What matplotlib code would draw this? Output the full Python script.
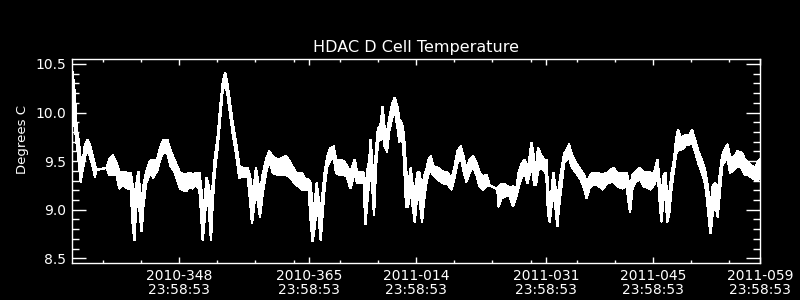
import numpy as np
import matplotlib
matplotlib.use("Agg")
import matplotlib.pyplot as plt

# time in continuous day-of-year (2011 days continue past 365)
days = [335.09, 335.35, 335.61, 335.87, 336.13, 336.39, 336.70, 337.01, 337.35, 337.70,
        338.01, 338.14, 339.54, 339.88, 340.32, 340.84, 341.19, 341.72, 342.24, 342.68,
        342.94, 343.16, 343.37, 343.68, 343.90, 344.11, 344.33, 344.68, 345.20, 345.64,
        346.16, 346.51, 346.95, 347.47, 347.91, 348.47, 349.13,
        349.91, 350.35, 350.78, 351.22, 351.66, 351.88, 352.09, 352.35, 352.62, 352.88,
        353.18, 353.40, 353.66, 354.06, 354.40, 354.71, 355.02, 355.32, 355.67, 356.02,
        356.45, 356.89, 357.33, 357.98, 358.29, 358.55, 358.85, 359.07, 359.29, 359.59,
        359.94, 360.38, 360.82, 361.25, 361.91, 363.00, 363.43, 364.30,
        365.09, 365.52, 365.96, 366.18, 366.48, 366.75, 367.01, 367.27, 367.53, 367.79,
        368.05, 368.40, 368.80, 369.23, 369.54, 369.97, 370.54, 370.98, 371.41, 371.98,
        372.28, 372.72, 373.16, 373.38, 373.64, 373.90, 374.07, 374.33, 374.51, 374.77,
        375.03, 375.34, 375.64, 375.90, 376.21, 376.52, 376.86, 377.21, 377.56, 377.82,
        378.17, 378.43, 378.70, 378.96, 379.31, 379.57, 379.83, 380.18,
        380.26, 380.48, 380.79, 381.05, 381.35, 381.66, 381.92, 382.23, 382.88, 383.54,
        384.19, 384.63, 384.97, 385.41, 385.85, 386.20, 386.59, 387.02, 387.46, 387.90,
        388.33, 388.77, 389.20, 389.64, 390.64, 390.82, 391.17, 391.69, 392.26, 392.69,
        393.13, 393.43, 393.87, 394.22, 394.57, 394.83, 395.09, 395.35,
        395.44, 395.70, 395.96, 396.31, 396.75, 397.05, 397.27, 397.49, 397.71, 397.97,
        398.23, 398.49, 398.71, 399.02, 399.36, 399.71, 400.02, 400.32, 400.67, 401.11,
        401.55, 401.98, 402.33, 402.68, 403.07, 403.73, 404.38, 405.03, 405.82, 406.34,
        407.00, 407.56, 407.83, 408.00, 408.31, 408.74, 409.31, 409.83, 410.49,
        410.62, 410.96, 411.27, 411.57, 411.75, 411.92, 412.10, 412.36, 412.62, 412.88,
        413.14, 413.45, 413.75, 414.02, 414.28, 414.63, 414.98, 415.33, 415.67, 416.11,
        416.50, 416.94, 417.38, 417.81, 418.12, 418.38, 418.55, 418.81, 419.12, 419.47,
        419.77, 420.04, 420.38, 420.73, 421.08, 421.52, 422.04, 422.61, 423.04, 423.48,
        423.92, 424.35, 424.79, 425.00]

# upper edge of the toggling temperature band
temp_hi = [10.41, 10.20, 9.82, 9.72, 9.515, 9.48, 9.67, 9.72, 9.67, 9.55,
           9.45, 9.41, 9.43, 9.515, 9.56, 9.48, 9.385, 9.39, 9.38, 9.38,
           9.24, 9.10, 9.24, 9.39, 9.17, 9.07, 9.24, 9.38, 9.50, 9.515,
           9.515, 9.635, 9.72, 9.72, 9.60, 9.50, 9.38,
           9.36, 9.38, 9.36, 9.38, 9.38, 9.24, 9.07, 9.10, 9.33, 9.24,
           9.07, 9.24, 9.515, 9.755, 10.06, 10.30, 10.41, 10.30, 10.10, 9.89,
           9.69, 9.45, 9.43, 9.43, 9.34, 9.17, 9.275, 9.43, 9.31, 9.17,
           9.36, 9.515, 9.60, 9.55, 9.515, 9.55, 9.50, 9.38,
           9.38, 9.31, 9.31, 9.275, 9.035, 9.07, 9.275, 9.10, 8.97, 9.17,
           9.38, 9.55, 9.635, 9.65, 9.515, 9.515, 9.50, 9.45, 9.38, 9.515,
           9.39, 9.39, 9.38, 9.17, 9.41, 9.515, 9.72, 9.41, 9.24, 9.62,
           9.84, 9.86, 10.06, 9.82, 9.79, 9.94, 10.08, 10.15, 10.06, 9.93,
           9.89, 9.755, 9.41, 9.24, 9.43, 9.24, 9.17, 9.38,
           9.39, 9.38, 9.17, 9.34, 9.41, 9.515, 9.55, 9.45, 9.43, 9.39,
           9.38, 9.31, 9.41, 9.60, 9.65, 9.55, 9.41, 9.515, 9.55, 9.48,
           9.38, 9.34, 9.36, 9.25, 9.21, 9.24, 9.26, 9.26, 9.22, 9.24,
           9.22, 9.38, 9.48, 9.515, 9.41, 9.515, 9.69, 9.58,
           9.515, 9.41, 9.635, 9.57, 9.515, 9.515, 9.21, 9.10, 9.17, 9.38,
           9.24, 9.10, 9.24, 9.41, 9.57, 9.62, 9.67, 9.585, 9.515, 9.46,
           9.41, 9.36, 9.275, 9.34, 9.38, 9.38, 9.36, 9.38, 9.43, 9.38,
           9.38, 9.38, 9.275, 9.21, 9.36, 9.39, 9.43, 9.38, 9.39,
           9.38, 9.36, 9.41, 9.515, 9.38, 9.24, 9.10, 9.34, 9.38, 9.10,
           9.17, 9.38, 9.515, 9.72, 9.82, 9.74, 9.755, 9.77, 9.755, 9.82,
           9.72, 9.60, 9.515, 9.41, 9.26, 9.10, 9.035, 9.24, 9.275, 9.17,
           9.38, 9.55, 9.62, 9.67, 9.55, 9.53, 9.60, 9.585, 9.515, 9.48,
           9.45, 9.43, 9.50, 9.515]

# lower edge of the band
temp_lo = [10.235, 9.86, 9.69, 9.515, 9.29, 9.41, 9.55, 9.62, 9.55, 9.45,
           9.34, 9.41, 9.43, 9.36, 9.36, 9.36, 9.22, 9.26, 9.22, 9.21,
           8.86, 8.69, 9.00, 9.17, 8.93, 8.78, 9.035, 9.27, 9.38, 9.33,
           9.41, 9.515, 9.60, 9.58, 9.45, 9.38, 9.22,
           9.19, 9.24, 9.22, 9.26, 9.21, 8.97, 8.69, 8.90, 9.17, 9.035,
           8.69, 9.07, 9.38, 9.65, 9.96, 10.235, 10.29, 10.20, 9.995, 9.79,
           9.58, 9.33, 9.34, 9.34, 9.10, 8.86, 9.07, 9.24, 9.10, 8.93,
           9.17, 9.38, 9.515, 9.38, 9.36, 9.36, 9.34, 9.26,
           9.21, 9.21, 9.21, 8.93, 8.675, 8.83, 9.035, 8.93, 8.69, 8.97,
           9.24, 9.45, 9.515, 9.55, 9.38, 9.36, 9.36, 9.34, 9.22, 9.38,
           9.275, 9.275, 9.275, 8.85, 9.10, 9.31, 9.41, 9.17, 8.95, 9.45,
           9.70, 9.72, 9.81, 9.65, 9.60, 9.82, 9.94, 10.03, 9.86, 9.70,
           9.79, 9.515, 9.035, 9.035, 9.21, 9.035, 8.88, 9.17,
           9.275, 9.10, 8.88, 9.10, 9.275, 9.38, 9.41, 9.36, 9.31, 9.275,
           9.26, 9.21, 9.31, 9.48, 9.55, 9.41, 9.29, 9.38, 9.45, 9.36,
           9.24, 9.21, 9.24, 9.25, 9.21, 9.035, 9.12, 9.14, 9.14, 9.035,
           9.14, 9.24, 9.34, 9.38, 9.275, 9.36, 9.48, 9.34,
           9.26, 9.26, 9.41, 9.43, 9.41, 9.36, 8.97, 8.88, 9.035, 9.17,
           9.035, 8.83, 9.035, 9.24, 9.48, 9.515, 9.55, 9.45, 9.41, 9.36,
           9.31, 9.22, 9.12, 9.22, 9.26, 9.26, 9.21, 9.275, 9.29, 9.24,
           9.22, 9.24, 9.07, 8.98, 9.22, 9.29, 9.31, 9.24, 9.22,
           9.21, 9.24, 9.275, 9.38, 9.24, 9.035, 8.88, 9.10, 9.17, 8.88,
           8.97, 9.24, 9.41, 9.58, 9.62, 9.62, 9.635, 9.67, 9.67, 9.69,
           9.60, 9.48, 9.38, 9.275, 9.07, 8.85, 8.76, 8.97, 9.07, 8.93,
           9.21, 9.45, 9.50, 9.55, 9.38, 9.41, 9.45, 9.43, 9.36, 9.36,
           9.33, 9.31, 9.31, 9.34]

# axis ticks (day-of-year at 23:58:53)
major_days = [348, 365, 379, 396, 410, 424]
minor_days = [338, 343, 353, 358, 363, 369, 374, 384, 389, 394, 400, 405, 415, 420]
tick_labels = ["2010-348\n23:58:53", "2010-365\n23:58:53", "2011-014\n23:58:53",
               "2011-031\n23:58:53", "2011-045\n23:58:53", "2011-059\n23:58:53"]
day_frac = (23 * 3600 + 58 * 60 + 53) / 86400.0

fg = "white"
bg = "black"

fig = plt.figure(figsize=(8, 3), dpi=100, facecolor=bg)
ax = fig.add_axes([0.09, 0.1233, 0.86, 0.68], facecolor=bg)

# IDL-style plot: pixel lines without smoothing
ax.fill_between(days, temp_lo, temp_hi, color=fg, lw=0, antialiased=False)
ax.plot(days, temp_hi, color=fg, lw=1, antialiased=False)
ax.plot(days, temp_lo, color=fg, lw=1, antialiased=False)

ax.set_xlim(334 + day_frac, 424 + day_frac)
ax.set_ylim(8.452, 10.551)

ax.set_xticks(np.array(major_days) + day_frac)
ax.set_xticklabels(tick_labels, linespacing=1.0)
ax.set_xticks(np.array(minor_days) + day_frac, minor=True)
ax.set_yticks([8.5, 9.0, 9.5, 10.0, 10.5])
ax.set_yticklabels(["8.5", "9.0", "9.5", "10.0", "10.5"])
ax.set_yticks(np.arange(8.5, 10.55, 0.1), minor=True)

for side in ax.spines.values():
    side.set_color(fg)
    side.set_linewidth(1)

ax.tick_params(axis="both", which="both", direction="in", colors=fg,
               top=True, right=True, width=1, labelsize=10)
ax.tick_params(axis="x", which="major", length=4.3, pad=4)
ax.tick_params(axis="x", which="minor", length=2.2)
ax.tick_params(axis="y", which="major", length=10, pad=4)
ax.tick_params(axis="y", which="minor", length=5)

ax.set_title("HDAC D Cell Temperature", color=fg, fontsize=11.5, pad=5)
fig.text(0.028, 0.535, "Degrees C", color=fg, fontsize=9.5, rotation=90,
         ha="center", va="center")

fig.savefig("out.png", dpi=100, facecolor=bg)
